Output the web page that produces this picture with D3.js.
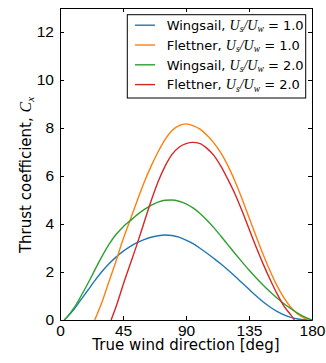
<!DOCTYPE html>
<html>
<head>
<meta charset="utf-8">
<script src="https://cdn.jsdelivr.net/npm/d3@7"></script>
<style>
  body { margin: 0; background: #fff; }
  svg { display: block; font-family: "DejaVu Sans", sans-serif; }
  .axis text { font-size: 15.5px; fill: #000; }
  .axis path, .axis line { stroke: #000; stroke-width: 1; }
  .math { font-family: "Liberation Serif", serif; font-style: italic; }
</style>
</head>
<body>
<svg id="chart"></svg>
<script>
// thrust coefficient vs true wind direction
const wingsail1 = [[3,0],[5,0.12],[10,0.45],[15,0.85],[20,1.25],[25,1.65],[30,2.02],[35,2.34],[40,2.62],[45,2.86],[50,3.06],[55,3.22],[60,3.35],[65,3.45],[70,3.51],[75,3.54],[80,3.52],[85,3.45],[90,3.33],[95,3.18],[100,2.99],[105,2.78],[110,2.56],[115,2.33],[120,2.08],[125,1.82],[130,1.55],[135,1.28],[140,1.01],[145,0.76],[150,0.54],[155,0.36],[160,0.21],[165,0.11],[170,0.04],[175,0.01],[180,0]];
const flettner1 = [[24.8,0],[30,0.75],[35,1.6],[40,2.45],[45,3.35],[50,4.15],[55,4.95],[60,5.72],[65,6.4],[70,7.0],[75,7.52],[80,7.9],[85,8.1],[90,8.17],[95,8.1],[100,7.95],[105,7.7],[110,7.37],[115,6.95],[120,6.42],[125,5.78],[130,5.05],[135,4.27],[140,3.5],[145,2.75],[150,2.05],[155,1.43],[160,0.92],[165,0.52],[170,0.24],[175,0.07],[180,0]];
const wingsail2 = [[3,0],[5,0.12],[10,0.5],[15,1.0],[20,1.53],[25,2.1],[30,2.65],[35,3.15],[40,3.56],[45,3.88],[50,4.13],[55,4.38],[60,4.6],[65,4.78],[70,4.91],[75,4.99],[80,5.0],[85,4.95],[90,4.84],[95,4.67],[100,4.44],[105,4.16],[110,3.84],[115,3.49],[120,3.13],[125,2.77],[130,2.42],[135,2.08],[140,1.76],[145,1.46],[150,1.18],[155,0.92],[160,0.68],[165,0.47],[170,0.28],[175,0.12],[180,0]];
const flettner2 = [[36.5,0],[40,0.55],[45,1.45],[50,2.3],[55,3.15],[60,4.05],[65,4.95],[70,5.75],[75,6.4],[80,6.9],[85,7.2],[90,7.35],[95,7.4],[100,7.35],[105,7.15],[110,6.85],[115,6.4],[120,5.85],[125,5.25],[130,4.55],[135,3.8],[140,3.05],[145,2.35],[150,1.7],[155,1.1],[160,0.58],[165,0.2],[167.5,0]];

const seriesNames = ["Wingsail", "Flettner", "Wingsail", "Flettner"];
const speedRatios = ["1.0", "1.0", "2.0", "2.0"];
const seriesColors = ["#1f77b4", "#ff7f0e", "#2ca02c", "#d62728"];
const xTicks = [0, 45, 90, 135, 180];
const yTicks = [0, 2, 4, 6, 8, 10, 12];

const allSeries = [wingsail1, flettner1, wingsail2, flettner2];

class ThrustChart {
  constructor(_config) {
    this.config = {
      parentElement: _config.parentElement,
      containerWidth: 326,
      containerHeight: 363,
      margin: { top: 8, right: 14, bottom: 43, left: 60 }
    };
    this.initVis();
  }

  initVis() {
    let vis = this;
    vis.width = vis.config.containerWidth - vis.config.margin.left - vis.config.margin.right;
    vis.height = vis.config.containerHeight - vis.config.margin.top - vis.config.margin.bottom;

    vis.svg = d3.select(vis.config.parentElement)
      .attr("width", vis.config.containerWidth)
      .attr("height", vis.config.containerHeight);

    vis.chart = vis.svg.append("g")
      .attr("transform", `translate(${vis.config.margin.left},${vis.config.margin.top})`);

    vis.xScale = d3.scaleLinear().domain([0, 180]).range([0, vis.width]);
    vis.yScale = d3.scaleLinear().domain([0, 13]).range([vis.height, 0]);

    vis.chart.append("clipPath").attr("id", "plot-clip")
      .append("rect").attr("width", vis.width).attr("height", vis.height);

    vis.updateVis();
  }

  updateVis() {
    let vis = this;

    const line = d3.line()
      .x(d => vis.xScale(d[0]))
      .y(d => vis.yScale(d[1]))
      .curve(d3.curveMonotoneX);

    vis.chart.append("g").attr("clip-path", "url(#plot-clip)")
      .selectAll(".curve")
      .data(allSeries)
      .join("path")
      .attr("class", "curve")
      .attr("fill", "none")
      .attr("stroke", (d, i) => seriesColors[i])
      .attr("stroke-width", 1.4)
      .attr("d", line);

    // axes, ticks pointing inward on all four sides
    vis.chart.append("g").attr("class", "axis")
      .attr("transform", `translate(0,${vis.height})`)
      .call(d3.axisBottom(vis.xScale).tickValues(xTicks).tickSizeInner(-4).tickSizeOuter(0).tickPadding(4.5));
    vis.chart.append("g").attr("class", "axis")
      .call(d3.axisLeft(vis.yScale).tickValues(yTicks).tickSizeInner(-4).tickSizeOuter(0).tickPadding(6));
    vis.chart.append("g").attr("class", "axis")
      .call(d3.axisTop(vis.xScale).tickValues(xTicks).tickSizeInner(-4).tickSizeOuter(0).tickFormat(""));
    vis.chart.append("g").attr("class", "axis")
      .attr("transform", `translate(${vis.width},0)`)
      .call(d3.axisRight(vis.yScale).tickValues(yTicks).tickSizeInner(-4).tickSizeOuter(0).tickFormat(""));

    // axis labels
    vis.chart.append("text")
      .attr("x", vis.width / 2)
      .attr("y", vis.height + 30)
      .attr("text-anchor", "middle")
      .attr("font-size", 15)
      .text("True wind direction [deg]");

    const yLabel = vis.chart.append("text")
      .attr("transform", `translate(-29,${vis.height / 2 + 11}) rotate(-90)`)
      .attr("text-anchor", "middle")
      .attr("font-size", 15);
    yLabel.append("tspan").text("Thrust coefficient, ");
    yLabel.append("tspan").attr("class", "math").attr("font-size", 16).text("C");
    yLabel.append("tspan").attr("class", "math").attr("font-size", 11).attr("dy", 3).text("x");

    // legend
    const lg = vis.chart.append("g").attr("transform", "translate(67.3,6.7)");
    lg.append("rect")
      .attr("width", 178.4).attr("height", 83.3)
      .attr("fill", "#fff").attr("stroke", "#000").attr("stroke-width", 1);

    const rows = lg.selectAll(".entry")
      .data(seriesNames)
      .join("g")
      .attr("class", "entry")
      .attr("transform", (d, i) => `translate(0,${10.5 + i * 19.8})`);

    rows.append("line")
      .attr("x1", 7.7).attr("x2", 27.7)
      .attr("stroke", (d, i) => seriesColors[i])
      .attr("stroke-width", 1.4);

    rows.append("text")
      .attr("x", 39.4)
      .attr("y", 4.7)
      .attr("font-size", 13)
      .each(function(d, i) {
        const t = d3.select(this);
        t.append("tspan").text(d + ", ");
        t.append("tspan").attr("class", "math").attr("font-size", 14).text("U");
        t.append("tspan").attr("class", "math").attr("font-size", 9.5).attr("dy", 2.5).text("s");
        t.append("tspan").attr("class", "math").attr("font-size", 14).attr("dy", -2.5).text("/U");
        t.append("tspan").attr("class", "math").attr("font-size", 9.5).attr("dy", 2.5).text("w");
        t.append("tspan").attr("dy", -2.5).text(" = " + speedRatios[i]);
      });
  }
}

new ThrustChart({ parentElement: "#chart" });
</script>
</body>
</html>
